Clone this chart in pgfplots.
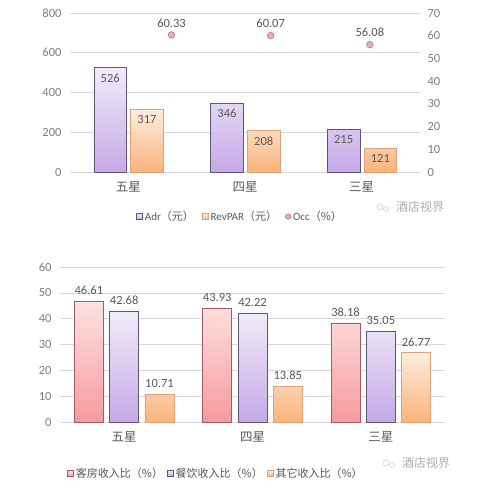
\documentclass[border=0pt]{standalone}
\usepackage{pgfplots}
\pgfplotsset{compat=1.18}
\usepackage{fontspec}
\setmainfont{Carlito}
\newfontfamily\cjk{Noto Sans CJK SC}
\definecolor{txt}{HTML}{595959}
\definecolor{tick}{HTML}{7F7F7F}
\definecolor{gridc}{HTML}{D9D9D9}
\definecolor{purT}{HTML}{F1ECF9}
\definecolor{purB}{HTML}{C6A9E8}
\definecolor{purD}{HTML}{5E5679}
\definecolor{orT}{HTML}{FDEEDD}
\definecolor{orB}{HTML}{FAB37C}
\definecolor{orD}{HTML}{DDA27A}
\definecolor{redT}{HTML}{FDE2E2}
\definecolor{redB}{HTML}{F59A9E}
\definecolor{redD}{HTML}{A45A66}
\definecolor{occF}{HTML}{E8AEB8}
\definecolor{occD}{HTML}{C27282}
\pgfplotsset{
  base/.style={
    scale only axis,
    anchor=south west,
    xmin=-0.5, xmax=2.5,
    xtick={0,1,2},
    xticklabels={{\cjk 五星},{\cjk 四星},{\cjk 三星}},
    x tick label style={font=\fontsize{12.5}{14}\selectfont, text=txt, yshift=-6pt},
    major tick length=0pt,
    axis x line*=bottom,
    axis y line*=left,
    axis line style={draw=gridc},
    ymajorgrids, grid style={draw=gridc, line width=0.6pt},
    y axis line style={draw=none},
    tick label style={font=\fontsize{12.5}{14}\selectfont, text=tick},
    /pgf/number format/assume math mode=true,
    legend style={draw=none, fill=none, font=\fontsize{11}{13}\selectfont, text=txt, legend columns=-1,
      /tikz/every even column/.append style={column sep=6pt}},
    clip=false,
  },
}
\begin{document}
\begin{tikzpicture}
\path[use as bounding box, fill=white] (0,0) rectangle (500pt,488pt);
% ---------- top chart
\begin{axis}[base, ybar,
  at={(70pt,316pt)}, width=350pt, height=159pt,
  ymin=0, ymax=800, ytick={0,200,400,600,800},
  yticklabel style={xshift=-5pt},
  legend style={at={(0.486,-0.28)}, anchor=center},
  nodes near coords, nodes near coords align={below},
  every node near coord/.append style={font=\fontsize{12.5}{14}\selectfont, text=txt, yshift=-2.5pt},
]
\addplot[bar width=0.28, bar shift=-0.155, draw=purD, line width=0.7pt,
  top color=purT, bottom color=purB,
  legend image code/.code={\draw[draw=purD, fill=purT!50!purB] (0pt,-3pt) rectangle (6pt,3pt);}]
  coordinates {(0,526) (1,346) (2,215)};
\addlegendentry{Adr{\cjk （元）}}
\addplot[bar width=0.28, bar shift=0.16, draw=orD, line width=0.7pt,
  top color=orT, bottom color=orB,
  legend image code/.code={\draw[draw=orD, fill=orT!50!orB] (0pt,-3pt) rectangle (6pt,3pt);}]
  coordinates {(0,317) (1,208) (2,121)};
\addlegendentry{RevPAR{\cjk （元）}}
\addlegendimage{legend image code/.code={\draw[draw=occD, fill=occF, line width=0.6pt] (3pt,0pt) circle (2.8pt);}}
\addlegendentry{Occ{\cjk （\%）}}
\end{axis}
\begin{axis}[base,
  at={(70pt,316pt)}, width=350pt, height=159pt,
  ymin=0, ymax=70, ytick={0,10,20,30,40,50,60,70},
  axis y line*=right, axis x line=none, ymajorgrids=false,
  xtick=\empty,
  yticklabel style={xshift=4pt},
]
\addplot[only marks, mark=*, mark size=3.3pt, mark options={fill=occF, draw=occD, line width=0.6pt},
  nodes near coords={\pgfmathprintnumber[fixed,precision=2,zerofill]{\pgfplotspointmeta}},
  every node near coord/.append style={font=\fontsize{12.5}{14}\selectfont, text=txt, yshift=4pt}]
  coordinates {(0.37,60.33) (1.22,60.07) (2.07,56.08)};
\end{axis}
\node[text=gridc!80!black, font=\cjk\fontsize{12}{14}\selectfont] at (420pt,281pt) {酒店视界};
\draw[gridc, line width=0.7pt] (380pt,281pt) circle (3pt) (386pt,279pt) circle (2.5pt);
% ---------- bottom chart
\begin{axis}[base, ybar,
  at={(60pt,66pt)}, width=385pt, height=155pt,
  ymin=0, ymax=60, ytick={0,10,20,30,40,50,60},
  yticklabel style={xshift=-5pt},
  legend style={at={(0.405,-0.33)}, anchor=center, /tikz/every even column/.append style={column sep=2pt}},
  every node near coord/.append style={font=\fontsize{12.5}{14}\selectfont, text=txt, yshift=3pt},
  nodes near coords={\pgfmathprintnumber[fixed,precision=2,zerofill]{\pgfplotspointmeta}},
]
\addplot[bar width=0.226, bar shift=-0.275, draw=redD, line width=0.7pt,
  top color=redT, bottom color=redB,
  legend image code/.code={\draw[draw=redD, fill=redT!50!redB] (0pt,-3pt) rectangle (6pt,3pt);}]
  coordinates {(0,46.61) (1,43.93) (2,38.18)};
\addlegendentry{\cjk 客房收入比（\%）}
\addplot[bar width=0.226, bar shift=0, draw=purD, line width=0.7pt,
  top color=purT, bottom color=purB,
  legend image code/.code={\draw[draw=purD, fill=purT!50!purB] (0pt,-3pt) rectangle (6pt,3pt);}]
  coordinates {(0,42.68) (1,42.22) (2,35.05)};
\addlegendentry{\cjk 餐饮收入比（\%）}
\addplot[bar width=0.226, bar shift=0.275, draw=orD, line width=0.7pt,
  top color=orT, bottom color=orB,
  legend image code/.code={\draw[draw=orD, fill=orT!50!orB] (0pt,-3pt) rectangle (6pt,3pt);}]
  coordinates {(0,10.71) (1,13.85) (2,26.77)};
\addlegendentry{\cjk 其它收入比（\%）}
\end{axis}
\node[text=gridc!80!black, font=\cjk\fontsize{12}{14}\selectfont] at (426pt,25pt) {酒店视界};
\draw[gridc, line width=0.7pt] (386pt,25pt) circle (3pt) (392pt,23pt) circle (2.5pt);
\end{tikzpicture}
\end{document}
